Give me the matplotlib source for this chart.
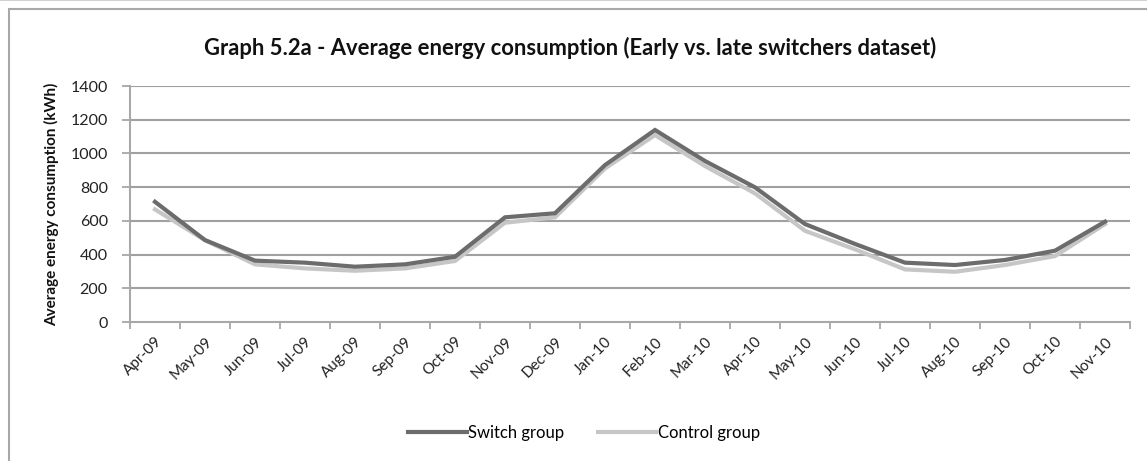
import matplotlib
matplotlib.use("Agg")
import matplotlib.pyplot as plt
from matplotlib.patches import Rectangle
from matplotlib.lines import Line2D

months = ["Apr-09", "May-09", "Jun-09", "Jul-09", "Aug-09", "Sep-09", "Oct-09",
          "Nov-09", "Dec-09", "Jan-10", "Feb-10", "Mar-10", "Apr-10", "May-10",
          "Jun-10", "Jul-10", "Aug-10", "Sep-10", "Oct-10", "Nov-10"]
switch_group = [713, 486, 364, 352, 328, 342, 387, 621, 645, 931, 1139, 955,
                799, 581, 463, 352, 338, 368, 423, 595]
control_group = [668, 485, 342, 318, 304, 318, 362, 589, 621, 911, 1109, 925,
                 763, 541, 431, 312, 298, 338, 391, 581]
y_ticks = [0, 200, 400, 600, 800, 1000, 1200, 1400]

plt.rcParams['font.family'] = ['Lato', 'DejaVu Sans']

W, H = 1147, 461
fig = plt.figure(figsize=(W / 100, H / 100), dpi=100)

# outer chart frame (cut off at right and bottom) and top line
fig.patches.append(Rectangle((9 / W, -0.1), 1.2, (H - 9) / H + 0.1,
                             transform=fig.transFigure, fill=False,
                             edgecolor='#a8a8a8', linewidth=1.5))
fig.lines.append(Line2D([0, 1], [1 - 0.5 / H, 1 - 0.5 / H], transform=fig.transFigure,
                        color='#c8c8c8', linewidth=1.2))

left, right = 130 / W, 1130 / W
bottom, top = 1 - 322 / H, 1 - 86 / H
ax = fig.add_axes([left, bottom, right - left, top - bottom])

x = list(range(len(months)))
ax.plot(x, control_group, color='#c6c6c6', linewidth=3, label='Control group',
        solid_joinstyle='miter', zorder=3)
ax.plot(x, switch_group, color='#6c6c6c', linewidth=3, label='Switch group',
        solid_joinstyle='miter', zorder=4)

ax.set_xlim(-0.5, len(months) - 0.5)
ax.set_ylim(0, 1400)
ax.set_yticks(y_ticks)
ax.set_yticklabels([str(v) for v in y_ticks], fontsize=11.5, color='#222222')
ax.set_xticks(x)
ax.set_xticklabels(months, rotation=45, ha='right', rotation_mode='anchor',
                   fontsize=11, color='#222222')
ax.set_xticks([i - 0.5 for i in range(len(months) + 1)], minor=True)
ax.tick_params(axis='x', which='major', length=0, pad=9)
ax.tick_params(axis='x', which='minor', length=5, color='#a0a0a0', width=1.2, direction='out')
ax.tick_params(axis='y', length=6, color='#a0a0a0', width=1.2, pad=10)

for v in y_ticks[1:]:
    ax.axhline(v, color='#a0a0a0', linewidth=1.5, zorder=1)

for s in ['top', 'right']:
    ax.spines[s].set_visible(False)
for s in ['left', 'bottom']:
    ax.spines[s].set_color('#a8a8a8')
    ax.spines[s].set_linewidth(1.5)

ax.set_ylabel('Average energy consumption (kWh)', fontsize=11, fontweight='bold',
              color='#111111', labelpad=8)

fig.text(570 / W, 1 - 48 / H, 'Graph 5.2a - Average energy consumption (Early vs. late switchers dataset)',
         ha='center', va='center', fontsize=15.8, fontweight='bold', color='#111111')

handles = [Line2D([], [], color='#6c6c6c', linewidth=3),
           Line2D([], [], color='#c6c6c6', linewidth=3)]
fig.legend(handles, ['Switch group', 'Control group'], loc='center',
           bbox_to_anchor=(584 / W, 1 - 433 / H), ncol=2, frameon=False,
           fontsize=12, handlelength=3.5, handletextpad=0.1, columnspacing=2.0)

fig.savefig('out.png', dpi=100)
